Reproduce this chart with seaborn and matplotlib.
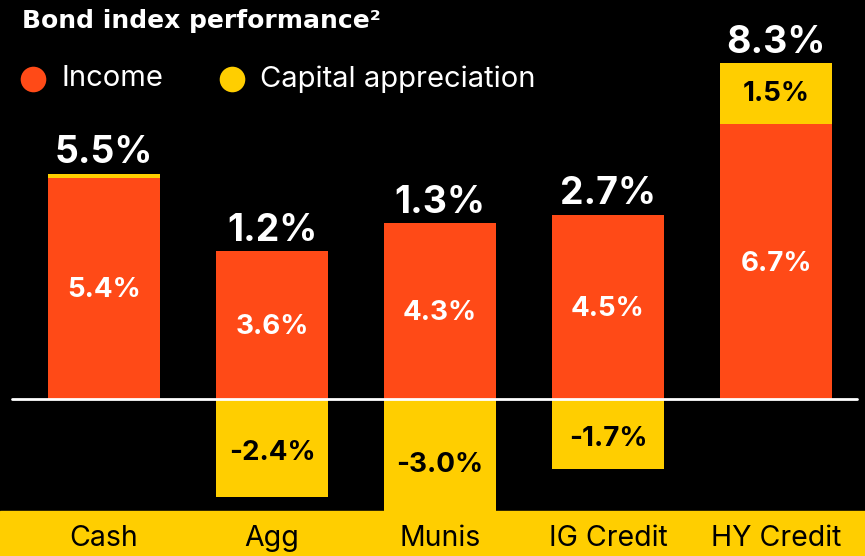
import matplotlib
matplotlib.use("Agg")
import matplotlib.pyplot as plt
from matplotlib.patches import Rectangle
import seaborn as sns
import pandas as pd

categories = ["Cash", "Agg", "Munis", "IG Credit", "HY Credit"]
income = [5.4, 3.6, 4.3, 4.5, 6.7]
capital = [0.1, -2.4, -3.0, -1.7, 1.5]
totals = [5.5, 1.2, 1.3, 2.7, 8.3]

ORANGE = "#FF4A17"
YELLOW = "#FFCE00"

sns.set_theme(style="white")
plt.rcParams["font.family"] = ["Inter", "DejaVu Sans"]

df = pd.DataFrame({"category": categories, "income": income, "capital": capital})
# positive capital appreciation stacks on top of income, negative hangs below zero
cap_bottom = [i if c > 0 else 0 for i, c in zip(income, capital)]

fig = plt.figure(figsize=(8.65, 5.56), dpi=100, facecolor="black")
ax = fig.add_axes([0, 0, 1, 1])
ax.set_facecolor("black")

bw = 112 / 168
sns.barplot(data=df, x="category", y="income", color=ORANGE, width=bw,
            saturation=1, ax=ax, linewidth=0)
sns.barplot(data=df, x="category", y="capital", color=YELLOW, width=bw,
            saturation=1, ax=ax, linewidth=0, bottom=cap_bottom)

ax.set_xlim(-104 / 168, (865 - 104) / 168)
ppu = 41.0
ax.set_ylim(-(556 - 399) / ppu, 399 / ppu)
ax.axis("off")

# zero line
ax.axhline(0, xmin=12 / 865, xmax=857 / 865, color="white", lw=2)

# category band at the bottom
ax.add_patch(Rectangle((0, 0), 1, 45 / 556, transform=ax.transAxes,
                       color=YELLOW, zorder=5, clip_on=False))
for i, cat in enumerate(categories):
    ax.text(i, 17 / 556, cat, transform=ax.get_xaxis_transform(), ha="center",
            va="center", fontsize=20.5, color="black", zorder=6)

# value labels
for i, (inc, cap, tot) in enumerate(zip(income, capital, totals)):
    ax.text(i, inc / 2 - 0.05, f"{inc:.1f}%", ha="center", va="center",
            fontsize=20, fontweight="bold", color="white")
    top = inc + max(cap, 0)
    ax.text(i, top + 0.05, f"{tot:.1f}%", ha="center", va="bottom",
            fontsize=27, fontweight="bold", color="white")
    if cap >= 1:
        ax.text(i, inc + cap / 2, f"{cap:.1f}%", ha="center", va="center",
                fontsize=20, fontweight="bold", color="black")
    elif cap < 0:
        ax.text(i, cap / 2 - 0.12, f"{cap:.1f}%", ha="center", va="center",
                fontsize=20, fontweight="bold", color="black")

# title and legend
fig.text(22 / 865, 1 - 9 / 556, "Bond index performance²", ha="left", va="top",
         fontsize=18, fontweight="bold", color="white", family="DejaVu Sans")
for x, label, col in [(33, "Income", ORANGE), (232, "Capital appreciation", YELLOW)]:
    ax.scatter([x / 865], [1 - 79 / 556], s=340, color=col, transform=ax.transAxes,
               clip_on=False, linewidth=0)
    fig.text((x + 28) / 865, 1 - 79 / 556, label, ha="left", va="center",
             fontsize=21, color="white")

fig.savefig("out.png", dpi=100, facecolor="black")
